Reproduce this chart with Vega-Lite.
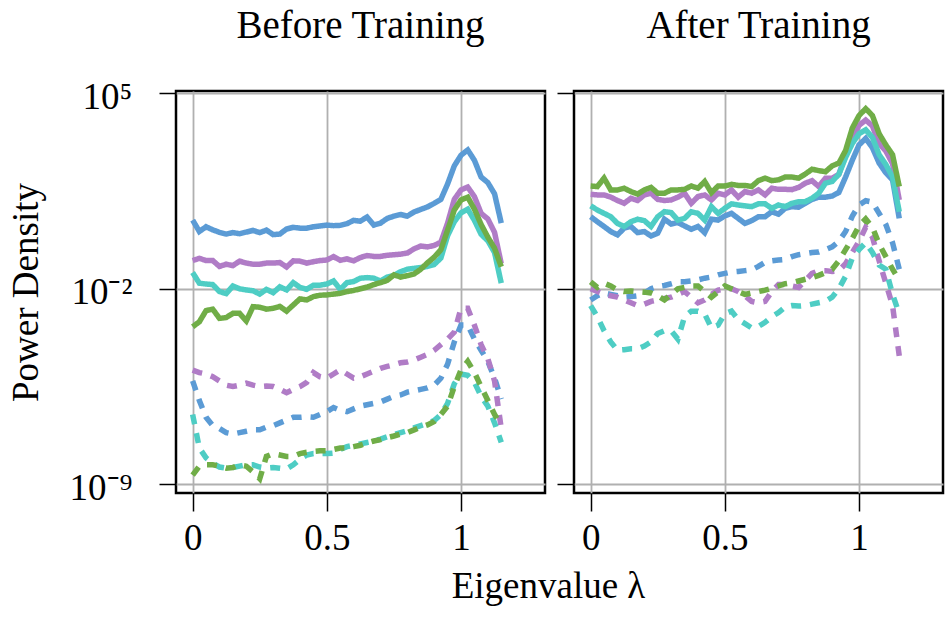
{
  "$schema": "https://vega.github.io/schema/vega-lite/v6.json",
  "background": "white",
  "padding": {"left": 5, "top": 5, "right": 0, "bottom": 0},
  "bounds": "flush",
  "spacing": 29,
  "config": {
    "font": "Liberation Serif",
    "view": {"stroke": "black", "strokeWidth": 2.5},
    "axis": {
      "labelFont": "Liberation Serif",
      "labelFontSize": 37,
      "labelColor": "black",
      "titleFont": "Liberation Serif",
      "titleFontSize": 37,
      "titleFontWeight": "normal",
      "titleColor": "black",
      "tickColor": "black",
      "tickWidth": 1.5,
      "gridColor": "#b0b0b0",
      "gridWidth": 1.8,
      "domain": false,
      "labelFlush": false,
      "labelOverlap": false
    },
    "title": {"font": "Liberation Serif", "fontSize": 39, "fontWeight": "normal", "color": "black"}
  },
  "datasets": {
    "before": [
      {"lambda": 0, "A": 0.46, "B": -0.99, "C": -1.42, "D": -3.36, "A2": -5.3, "B2": -4.91, "C2": -6.5, "D2": -8.67},
      {"lambda": 0.025, "A": 0.05, "B": -0.91, "C": -1.8, "D": -3.18, "A2": -6.0, "B2": -5.0, "C2": -7.7, "D2": -8.35},
      {"lambda": 0.05, "A": 0.22, "B": -0.99, "C": -1.83, "D": -2.78, "A2": -6.6, "B2": -5.05, "C2": -8.05, "D2": -8.3},
      {"lambda": 0.075, "A": 0.11, "B": -0.99, "C": -1.85, "D": -2.73, "A2": -6.9, "B2": -5.15, "C2": -8.25, "D2": -8.3},
      {"lambda": 0.1, "A": 0.02, "B": -1.2, "C": -2.1, "D": -3.06, "A2": -7.0, "B2": -5.3, "C2": -8.38, "D2": -8.35},
      {"lambda": 0.125, "A": -0.04, "B": -1.12, "C": -2.17, "D": -3.03, "A2": -7.15, "B2": -5.45, "C2": -8.42, "D2": -8.42},
      {"lambda": 0.15, "A": 0.01, "B": -1.17, "C": -1.9, "D": -2.88, "A2": -7.2, "B2": -5.5, "C2": -8.4, "D2": -8.4},
      {"lambda": 0.175, "A": -0.03, "B": -1.01, "C": -2.0, "D": -2.88, "A2": -7.15, "B2": -5.45, "C2": -8.35, "D2": -8.3},
      {"lambda": 0.2, "A": 0.03, "B": -1.08, "C": -2.04, "D": -3.15, "A2": -7.1, "B2": -5.38, "C2": -8.3, "D2": -8.35},
      {"lambda": 0.225, "A": 0.09, "B": -1.12, "C": -2.07, "D": -2.64, "A2": -7.05, "B2": -5.45, "C2": -8.3, "D2": -8.55},
      {"lambda": 0.25, "A": 0.01, "B": -1.12, "C": -2.19, "D": -2.66, "A2": -7.05, "B2": -5.5, "C2": -8.38, "D2": -8.8},
      {"lambda": 0.275, "A": 0.1, "B": -1.08, "C": -2.02, "D": -2.73, "A2": -6.95, "B2": -5.48, "C2": -8.42, "D2": -8.0},
      {"lambda": 0.3, "A": -0.06, "B": -1.08, "C": -2.14, "D": -2.7, "A2": -6.9, "B2": -5.5, "C2": -8.4, "D2": -7.9},
      {"lambda": 0.325, "A": -0.04, "B": -1.06, "C": -1.93, "D": -2.63, "A2": -6.8, "B2": -5.6, "C2": -8.42, "D2": -7.95},
      {"lambda": 0.35, "A": 0.14, "B": -1.22, "C": -2.04, "D": -2.8, "A2": -6.7, "B2": -5.72, "C2": -8.45, "D2": -8.0},
      {"lambda": 0.375, "A": 0.2, "B": -1.0, "C": -1.78, "D": -2.58, "A2": -6.6, "B2": -5.6, "C2": -8.3, "D2": -8.0},
      {"lambda": 0.4, "A": 0.17, "B": -1.01, "C": -1.95, "D": -2.36, "A2": -6.6, "B2": -5.5, "C2": -8.1, "D2": -7.9},
      {"lambda": 0.425, "A": 0.17, "B": -1.08, "C": -2.02, "D": -2.4, "A2": -6.58, "B2": -5.35, "C2": -7.95, "D2": -7.85},
      {"lambda": 0.45, "A": 0.22, "B": -1.03, "C": -1.87, "D": -2.28, "A2": -6.6, "B2": -5.0, "C2": -7.9, "D2": -7.82},
      {"lambda": 0.475, "A": 0.25, "B": -0.99, "C": -1.87, "D": -2.23, "A2": -6.5, "B2": -5.15, "C2": -7.9, "D2": -7.8},
      {"lambda": 0.5, "A": 0.28, "B": -0.97, "C": -1.83, "D": -2.22, "A2": -6.4, "B2": -5.2, "C2": -7.9, "D2": -7.8},
      {"lambda": 0.525, "A": 0.26, "B": -0.85, "C": -1.72, "D": -2.19, "A2": -6.25, "B2": -5.05, "C2": -7.88, "D2": -7.75},
      {"lambda": 0.55, "A": 0.27, "B": -0.98, "C": -2.02, "D": -2.16, "A2": -6.35, "B2": -4.9, "C2": -7.75, "D2": -7.7},
      {"lambda": 0.575, "A": 0.33, "B": -0.93, "C": -1.78, "D": -2.1, "A2": -6.4, "B2": -5.05, "C2": -7.65, "D2": -7.7},
      {"lambda": 0.6, "A": 0.45, "B": -1.0, "C": -1.74, "D": -2.06, "A2": -6.3, "B2": -5.2, "C2": -7.6, "D2": -7.65},
      {"lambda": 0.625, "A": 0.42, "B": -0.88, "C": -1.62, "D": -2.0, "A2": -6.2, "B2": -5.15, "C2": -7.55, "D2": -7.6},
      {"lambda": 0.65, "A": 0.57, "B": -0.81, "C": -1.6, "D": -1.94, "A2": -6.15, "B2": -5.05, "C2": -7.5, "D2": -7.52},
      {"lambda": 0.675, "A": 0.28, "B": -0.84, "C": -1.62, "D": -1.85, "A2": -6.1, "B2": -4.95, "C2": -7.45, "D2": -7.45},
      {"lambda": 0.7, "A": 0.35, "B": -0.84, "C": -1.72, "D": -1.78, "A2": -6.05, "B2": -4.85, "C2": -7.38, "D2": -7.4},
      {"lambda": 0.725, "A": 0.52, "B": -0.8, "C": -1.58, "D": -1.7, "A2": -5.95, "B2": -4.78, "C2": -7.3, "D2": -7.33},
      {"lambda": 0.75, "A": 0.6, "B": -0.78, "C": -1.52, "D": -1.5, "A2": -5.85, "B2": -4.72, "C2": -7.22, "D2": -7.27},
      {"lambda": 0.775, "A": 0.66, "B": -0.76, "C": -1.39, "D": -1.58, "A2": -5.8, "B2": -4.65, "C2": -7.15, "D2": -7.2},
      {"lambda": 0.8, "A": 0.6, "B": -0.72, "C": -1.3, "D": -1.53, "A2": -5.7, "B2": -4.62, "C2": -7.08, "D2": -7.15},
      {"lambda": 0.825, "A": 0.75, "B": -0.57, "C": -1.27, "D": -1.47, "A2": -5.65, "B2": -4.55, "C2": -6.98, "D2": -7.05},
      {"lambda": 0.85, "A": 0.84, "B": -0.47, "C": -1.24, "D": -1.3, "A2": -5.6, "B2": -4.45, "C2": -6.9, "D2": -6.95},
      {"lambda": 0.875, "A": 0.93, "B": -0.5, "C": -1.2, "D": -1.07, "A2": -5.55, "B2": -4.35, "C2": -6.82, "D2": -6.87},
      {"lambda": 0.9, "A": 1.06, "B": -0.45, "C": -1.13, "D": -0.87, "A2": -5.45, "B2": -4.2, "C2": -6.72, "D2": -6.75},
      {"lambda": 0.925, "A": 1.2, "B": -0.33, "C": -0.9, "D": -0.6, "A2": -5.2, "B2": -4.0, "C2": -6.5, "D2": -6.5},
      {"lambda": 0.95, "A": 1.75, "B": 0.35, "C": -0.1, "D": 0.1, "A2": -4.7, "B2": -3.8, "C2": -6.1, "D2": -6.2},
      {"lambda": 0.975, "A": 2.4, "B": 1.2, "C": 0.4, "D": 0.82, "A2": -3.9, "B2": -3.55, "C2": -5.4, "D2": -5.5},
      {"lambda": 1.0, "A": 2.78, "B": 1.54, "C": 0.72, "D": 1.18, "A2": -3.3, "B2": -2.7, "C2": -5.05, "D2": -4.9},
      {"lambda": 1.025, "A": 2.97, "B": 1.64, "C": 0.85, "D": 1.28, "A2": -3.3, "B2": -2.7, "C2": -5.1, "D2": -4.6},
      {"lambda": 1.05, "A": 2.6, "B": 1.3, "C": 0.45, "D": 0.85, "A2": -3.8, "B2": -3.3, "C2": -5.35, "D2": -5.0},
      {"lambda": 1.075, "A": 2.0, "B": 0.7, "C": -0.05, "D": 0.3, "A2": -4.2, "B2": -4.0, "C2": -5.85, "D2": -5.5},
      {"lambda": 1.1, "A": 1.8, "B": 0.5, "C": -0.28, "D": -0.15, "A2": -4.6, "B2": -4.5, "C2": -6.2, "D2": -6.0},
      {"lambda": 1.125, "A": 1.4, "B": 0.02, "C": -0.7, "D": -0.55, "A2": -5.2, "B2": -5.3, "C2": -6.8, "D2": -6.5},
      {"lambda": 1.15, "A": 0.35, "B": -1.1, "C": -1.8, "D": -1.21, "A2": -5.95, "B2": -7.0, "C2": -7.5, "D2": -6.9}
    ],
    "after": [
      {"lambda": 0, "A": 0.58, "B": 1.38, "C": 0.97, "D": 1.68, "A2": -2.4, "B2": -2.0, "C2": -2.6, "D2": -1.75},
      {"lambda": 0.025, "A": 0.4, "B": 1.36, "C": 0.82, "D": 1.66, "A2": -2.25, "B2": -2.1, "C2": -3.0, "D2": -1.95},
      {"lambda": 0.05, "A": 0.23, "B": 1.36, "C": 0.7, "D": 1.96, "A2": -2.15, "B2": -2.2, "C2": -3.5, "D2": -1.8},
      {"lambda": 0.075, "A": 0.05, "B": 1.28, "C": 0.58, "D": 1.54, "A2": -2.2, "B2": -2.25, "C2": -3.9, "D2": -1.9},
      {"lambda": 0.1, "A": -0.07, "B": 1.16, "C": 0.34, "D": 1.54, "A2": -2.25, "B2": -2.3, "C2": -4.2, "D2": -2.05},
      {"lambda": 0.125, "A": 0.17, "B": 1.06, "C": 0.23, "D": 1.6, "A2": -2.3, "B2": -2.4, "C2": -4.18, "D2": -2.1},
      {"lambda": 0.15, "A": 0.23, "B": 1.24, "C": 0.4, "D": 1.48, "A2": -2.28, "B2": -2.5, "C2": -4.15, "D2": -2.08},
      {"lambda": 0.175, "A": 0.01, "B": 1.16, "C": 0.49, "D": 1.39, "A2": -2.25, "B2": -2.6, "C2": -4.15, "D2": -2.1},
      {"lambda": 0.2, "A": 0.05, "B": 1.36, "C": 0.44, "D": 1.54, "A2": -2.15, "B2": -2.55, "C2": -4.05, "D2": -2.12},
      {"lambda": 0.225, "A": -0.11, "B": 1.42, "C": 0.23, "D": 1.63, "A2": -2.0, "B2": -2.45, "C2": -3.9, "D2": -2.15},
      {"lambda": 0.25, "A": -0.01, "B": 1.2, "C": 0.58, "D": 1.42, "A2": -1.92, "B2": -2.4, "C2": -3.6, "D2": -2.25},
      {"lambda": 0.275, "A": 0.49, "B": 1.16, "C": 0.76, "D": 1.42, "A2": -1.88, "B2": -2.35, "C2": -3.5, "D2": -2.4},
      {"lambda": 0.3, "A": 0.32, "B": 1.18, "C": 0.73, "D": 1.54, "A2": -1.82, "B2": -2.3, "C2": -3.5, "D2": -2.2},
      {"lambda": 0.325, "A": 0.37, "B": 1.28, "C": 0.46, "D": 1.54, "A2": -1.75, "B2": -2.2, "C2": -3.8, "D2": -2.0},
      {"lambda": 0.35, "A": 0.25, "B": 1.42, "C": 0.52, "D": 1.56, "A2": -1.75, "B2": -2.1, "C2": -3.0, "D2": -1.95},
      {"lambda": 0.375, "A": 0.13, "B": 1.06, "C": 0.76, "D": 1.68, "A2": -1.72, "B2": -2.3, "C2": -2.8, "D2": -1.9},
      {"lambda": 0.4, "A": 0.23, "B": 1.3, "C": 0.7, "D": 1.6, "A2": -1.68, "B2": -2.5, "C2": -2.8, "D2": -1.9},
      {"lambda": 0.425, "A": 0.01, "B": 1.36, "C": 0.46, "D": 1.84, "A2": -1.62, "B2": -2.4, "C2": -2.9, "D2": -2.1},
      {"lambda": 0.45, "A": 0.49, "B": 1.18, "C": 0.94, "D": 1.44, "A2": -1.58, "B2": -2.2, "C2": -3.4, "D2": -2.3},
      {"lambda": 0.475, "A": 0.46, "B": 1.42, "C": 0.7, "D": 1.68, "A2": -1.5, "B2": -2.05, "C2": -3.3, "D2": -2.1},
      {"lambda": 0.5, "A": 0.61, "B": 1.36, "C": 0.88, "D": 1.68, "A2": -1.45, "B2": -2.0, "C2": -2.9, "D2": -1.9},
      {"lambda": 0.525, "A": 0.7, "B": 1.54, "C": 1.04, "D": 1.74, "A2": -1.4, "B2": -2.0, "C2": -2.8, "D2": -2.0},
      {"lambda": 0.55, "A": 0.52, "B": 1.28, "C": 1.0, "D": 1.7, "A2": -1.38, "B2": -2.1, "C2": -3.1, "D2": -2.1},
      {"lambda": 0.575, "A": 0.34, "B": 1.48, "C": 0.97, "D": 1.7, "A2": -1.35, "B2": -2.25, "C2": -3.25, "D2": -2.2},
      {"lambda": 0.6, "A": 0.44, "B": 1.42, "C": 0.94, "D": 1.66, "A2": -1.32, "B2": -2.45, "C2": -3.4, "D2": -2.15},
      {"lambda": 0.625, "A": 0.58, "B": 1.54, "C": 1.04, "D": 1.87, "A2": -1.2, "B2": -2.5, "C2": -3.35, "D2": -2.1},
      {"lambda": 0.65, "A": 0.58, "B": 1.36, "C": 1.04, "D": 1.96, "A2": -1.05, "B2": -2.45, "C2": -3.2, "D2": -2.05},
      {"lambda": 0.675, "A": 0.76, "B": 1.6, "C": 0.88, "D": 1.87, "A2": -1.0, "B2": -2.1, "C2": -3.0, "D2": -1.98},
      {"lambda": 0.7, "A": 0.67, "B": 1.56, "C": 1.0, "D": 1.9, "A2": -0.97, "B2": -1.85, "C2": -2.85, "D2": -1.9},
      {"lambda": 0.725, "A": 0.88, "B": 1.56, "C": 0.94, "D": 2.0, "A2": -0.95, "B2": -1.85, "C2": -2.65, "D2": -1.82},
      {"lambda": 0.75, "A": 0.94, "B": 1.55, "C": 1.06, "D": 2.0, "A2": -0.85, "B2": -1.9, "C2": -2.6, "D2": -1.78},
      {"lambda": 0.775, "A": 0.92, "B": 1.63, "C": 1.12, "D": 1.96, "A2": -0.78, "B2": -1.95, "C2": -2.62, "D2": -1.72},
      {"lambda": 0.8, "A": 1.06, "B": 1.78, "C": 1.12, "D": 2.11, "A2": -0.74, "B2": -1.7, "C2": -2.6, "D2": -1.66},
      {"lambda": 0.825, "A": 1.2, "B": 1.87, "C": 1.24, "D": 2.28, "A2": -0.7, "B2": -1.45, "C2": -2.55, "D2": -1.6},
      {"lambda": 0.85, "A": 1.28, "B": 1.66, "C": 1.42, "D": 2.23, "A2": -0.68, "B2": -1.35, "C2": -2.5, "D2": -1.52},
      {"lambda": 0.875, "A": 1.28, "B": 1.96, "C": 1.78, "D": 2.19, "A2": -0.6, "B2": -1.35, "C2": -2.45, "D2": -1.42},
      {"lambda": 0.9, "A": 1.32, "B": 1.96, "C": 1.84, "D": 2.4, "A2": -0.5, "B2": -1.38, "C2": -2.3, "D2": -1.3},
      {"lambda": 0.925, "A": 1.45, "B": 2.1, "C": 2.1, "D": 2.5, "A2": -0.3, "B2": -1.35, "C2": -2.0, "D2": -1.0},
      {"lambda": 0.95, "A": 2.0, "B": 2.8, "C": 2.7, "D": 2.95, "A2": 0.05, "B2": -1.1, "C2": -1.55, "D2": -0.6},
      {"lambda": 0.975, "A": 2.6, "B": 3.4, "C": 3.2, "D": 3.75, "A2": 0.6, "B2": -0.7, "C2": -0.9, "D2": -0.2},
      {"lambda": 1.0, "A": 3.15, "B": 3.85, "C": 3.55, "D": 4.2, "A2": 1.0, "B2": -0.3, "C2": -0.6, "D2": 0.25},
      {"lambda": 1.025, "A": 3.38, "B": 4.04, "C": 3.69, "D": 4.45, "A2": 1.15, "B2": 0.2, "C2": -0.35, "D2": 0.5},
      {"lambda": 1.05, "A": 3.05, "B": 3.83, "C": 3.42, "D": 4.2, "A2": 1.1, "B2": -0.15, "C2": -0.7, "D2": 0.2},
      {"lambda": 1.075, "A": 2.5, "B": 3.2, "C": 2.8, "D": 3.55, "A2": 0.7, "B2": -1.0, "C2": -1.15, "D2": -0.4},
      {"lambda": 1.1, "A": 2.15, "B": 2.93, "C": 2.45, "D": 3.15, "A2": 0.3, "B2": -1.8, "C2": -1.3, "D2": -0.85},
      {"lambda": 1.125, "A": 1.9, "B": 2.48, "C": 2.0, "D": 2.8, "A2": -0.35, "B2": -2.6, "C2": -2.2, "D2": -1.3},
      {"lambda": 1.15, "A": 0.52, "B": 1.18, "C": 0.76, "D": 1.66, "A2": -1.3, "B2": -4.4, "C2": -2.9, "D2": -1.7}
    ]
  },
  "hconcat": [
    {
      "width": 369,
      "height": 402,
      "data": {"name": "before"},
      "title": {"text": "Before Training", "baseline": "alphabetic", "offset": 1},
      "transform": [{"fold": ["A2", "B2", "C2", "D2", "A", "B", "C", "D"], "as": ["series", "log10_density"]}],
      "mark": {"type": "line", "strokeWidth": 5.5, "clip": true, "strokeCap": "butt"},
      "encoding": {
        "x": {
          "field": "lambda", "type": "quantitative",
          "scale": {"domain": [-0.062, 1.313], "nice": false, "zero": false},
          "axis": {"values": [0, 0.5, 1], "tickSize": 18, "labelPadding": 9, "format": "~g",
                   "title": "Eigenvalue λ", "titleX": 372, "titleY": 104, "titleBaseline": "alphabetic", "titleAlign": "center"}
        },
        "y": {
          "field": "log10_density", "type": "quantitative",
          "scale": {"domain": [-9.31, 5.08], "nice": false, "zero": false},
          "axis": {"values": [-9, -2, 5], "tickSize": 17, "labelPadding": 27, "labelBaseline": "alphabetic", "labelOffset": 15,
                   "labelExpr": "datum.value == 5 ? '10⁵' : datum.value == -2 ? '10⁻²' : '10⁻⁹'",
                   "title": "Power Density", "titleX": -139, "titleY": 201, "titleAngle": 270, "titleBaseline": "alphabetic", "titleAlign": "center"}
        },
        "color": {
          "field": "series", "type": "nominal", "legend": null,
          "scale": {"domain": ["A", "B", "C", "D", "A2", "B2", "C2", "D2"],
                    "range": ["#5B9BD5", "#B07CC6", "#4ECDC4", "#70AD47", "#5B9BD5", "#B07CC6", "#4ECDC4", "#70AD47"]}
        },
        "strokeDash": {
          "field": "series", "type": "nominal", "legend": null,
          "scale": {"domain": ["A", "B", "C", "D", "A2", "B2", "C2", "D2"],
                    "range": [[1, 0], [1, 0], [1, 0], [1, 0], [10, 9], [10, 9], [10, 9], [10, 9]]}
        }
      }
    },
    {
      "width": 369,
      "height": 402,
      "data": {"name": "after"},
      "title": {"text": "After Training", "baseline": "alphabetic", "offset": 14},
      "transform": [{"fold": ["A2", "B2", "C2", "D2", "A", "B", "C", "D"], "as": ["series", "log10_density"]}],
      "mark": {"type": "line", "strokeWidth": 5.5, "clip": true, "strokeCap": "butt"},
      "encoding": {
        "x": {
          "field": "lambda", "type": "quantitative",
          "scale": {"domain": [-0.062, 1.313], "nice": false, "zero": false},
          "axis": {"values": [0, 0.5, 1], "tickSize": 18, "labelPadding": 9, "format": "~g", "title": null}
        },
        "y": {
          "field": "log10_density", "type": "quantitative",
          "scale": {"domain": [-9.31, 5.08], "nice": false, "zero": false},
          "axis": {"values": [-9, -2, 5], "tickSize": 17, "labels": false, "title": null}
        },
        "color": {
          "field": "series", "type": "nominal", "legend": null,
          "scale": {"domain": ["A", "B", "C", "D", "A2", "B2", "C2", "D2"],
                    "range": ["#5B9BD5", "#B07CC6", "#4ECDC4", "#70AD47", "#5B9BD5", "#B07CC6", "#4ECDC4", "#70AD47"]}
        },
        "strokeDash": {
          "field": "series", "type": "nominal", "legend": null,
          "scale": {"domain": ["A", "B", "C", "D", "A2", "B2", "C2", "D2"],
                    "range": [[1, 0], [1, 0], [1, 0], [1, 0], [10, 9], [10, 9], [10, 9], [10, 9]]}
        }
      }
    }
  ]
}
